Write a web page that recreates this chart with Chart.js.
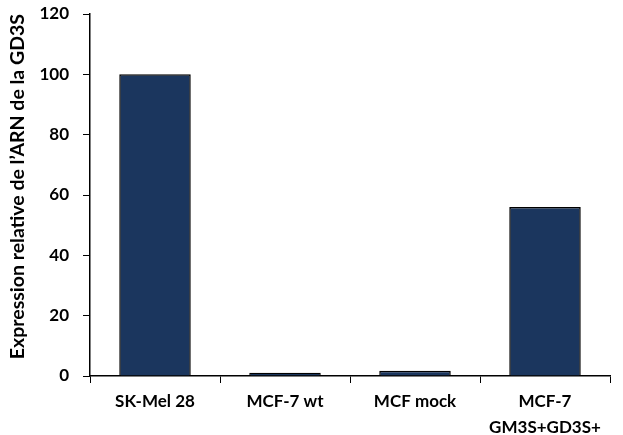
<!DOCTYPE html>
<html>
<head>
<meta charset="utf-8">
<script src="https://cdn.jsdelivr.net/npm/chart.js@4"></script>
<style>
  html, body { margin: 0; padding: 0; background: #ffffff; }
  #wrap { width: 623px; height: 435px; }
</style>
</head>
<body>
<div id="wrap"><canvas id="c" width="623" height="435"></canvas></div>
<script>
// Cell lines and relative GD3S mRNA expression (%)
const categories = ['SK-Mel 28', 'MCF-7 wt', 'MCF mock', ['MCF-7', 'GM3S+GD3S+']];
const expression = [100, 1.1, 1.7, 56];
const yTicks = [0, 20, 40, 60, 80, 100, 120];
const yTitle = 'Expression relative de l\u2019ARN de la GD3S';

const family = 'Lato, "Open Sans", sans-serif';
const tickFont = { family: family, size: 17, weight: 'bold' };
const xTickFont = { family: family, size: 17, weight: 'bold', lineHeight: 1.5 };
const titleFont = { family: family, size: 19.5, weight: 'bold' };

new Chart(document.getElementById('c'), {
  type: 'bar',
  data: {
    labels: categories,
    datasets: [{
      data: expression,
      backgroundColor: '#1b365e',
      borderColor: '#000000',
      borderWidth: 1.5,
      categoryPercentage: 1.0,
      barPercentage: 0.55
    }]
  },
  options: {
    responsive: false,
    animation: false,
    layout: { padding: { top: 14, right: 13, left: 0, bottom: 0 } },
    plugins: { legend: { display: false }, tooltip: { enabled: false } },
    scales: {
      x: {
        grid: { drawOnChartArea: false, drawTicks: true, tickLength: 7, color: '#000', offset: true },
        border: { color: '#000', width: 1.5 },
        ticks: { color: '#000', font: xTickFont, padding: 6, maxRotation: 0 },
        afterFit: (s) => { s.height = 59; s.paddingLeft = 0; s.paddingRight = 0; }
      },
      y: {
        min: 0,
        max: 120,
        afterBuildTicks: (s) => { s.ticks = yTicks.map(v => ({ value: v })); },
        grid: { drawOnChartArea: false, drawTicks: true, tickLength: 7, color: '#000' },
        border: { color: '#000', width: 1.5 },
        ticks: { color: '#000', font: tickFont, padding: 14 },
        title: { display: true, align: 'end', text: yTitle, color: '#000', font: titleFont, padding: { top: 6, bottom: 4 } },
        afterFit: (s) => { s.width = 90; s.paddingTop = 0; s.paddingBottom = 0; }
      }
    }
  }
});
</script>
</body>
</html>
